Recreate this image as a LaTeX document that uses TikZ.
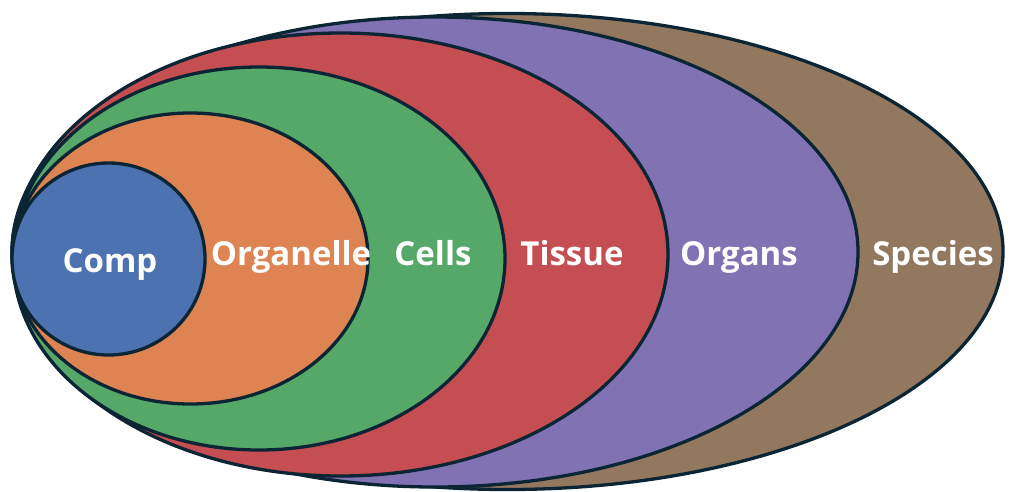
\documentclass[tikz,border=0pt]{standalone}
\usepackage{fontspec}
\setmainfont{Open Sans}
\definecolor{cblue}{HTML}{4C72B0}
\definecolor{corange}{HTML}{DD8452}
\definecolor{cgreen}{HTML}{55A868}
\definecolor{cred}{HTML}{C44E52}
\definecolor{cpurple}{HTML}{8172B3}
\definecolor{cbrown}{HTML}{937860}
\definecolor{cline}{HTML}{0B2535}
\begin{document}
\begin{tikzpicture}[x=1pt,y=-1pt,
  ring/.style={draw=cline,line width=3.3pt},
  lbl/.style={text=white,font=\fontsize{33}{33}\selectfont\bfseries,inner sep=0pt,anchor=base}]
\useasboundingbox (0,0) rectangle (1011,491);
\path[ring,fill=cbrown] (507.5,251.5) ellipse [x radius=495.5,y radius=238];
\path[ring,fill=cpurple] (435,252) ellipse [x radius=423,y radius=235];
\path[ring,fill=cred] (340.5,254.5) ellipse [x radius=327.5,y radius=221.5];
\path[ring,fill=cgreen] (259,258.5) ellipse [x radius=246,y radius=191.5];
\path[ring,fill=corange] (190.5,258.5) ellipse [x radius=177.5,y radius=145.5];
\path[ring,fill=cblue] (108.5,259) ellipse [x radius=96.5,y radius=96];
\node[lbl] (comp) at (110,272) {Comp};
\node[lbl] (organelle) at (291,265) {Organelle};
\node[lbl] (cells) at (433,265) {Cells};
\node[lbl] (tissue) at (572,265) {Tissue};
\node[lbl] (organs) at (739,265) {Organs};
\node[lbl] (species) at (933,265) {Species};
\end{tikzpicture}
\end{document}
